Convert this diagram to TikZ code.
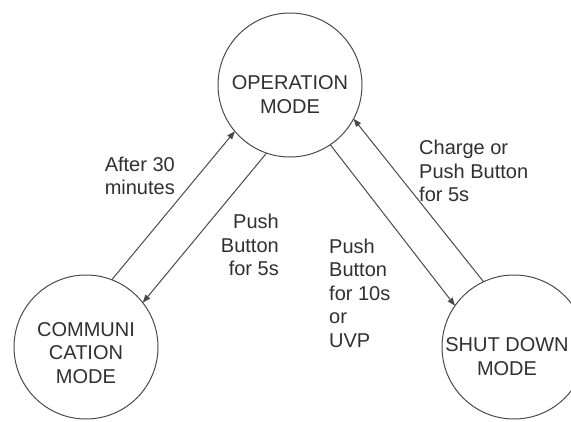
\documentclass[tikz,border=0pt]{standalone}
\usepackage{fontspec}
\setmainfont{Liberation Sans}
\usetikzlibrary{arrows.meta}
\definecolor{ink}{HTML}{303030}
\definecolor{edge}{HTML}{4A4A4A}
% #1 = horizontal shift of the text box (twice the visual shift), #2 = drop, #3 = lines
\newcommand{\stxt}[3]{\raisebox{-#2}[0pt][0pt]{\hspace*{#1}\begin{tabular}{@{}c@{}}#3\end{tabular}}}
\begin{document}
\begin{tikzpicture}[x=1pt,y=-1pt,
  state/.style={circle, draw=edge, line width=1pt, minimum size=144pt, inner sep=0pt, outer sep=0pt, text=ink, font=\fontsize{20}{23.5}\selectfont},
  lbl/.style={inner sep=0pt, text=ink, font=\fontsize{20}{23.5}\selectfont},
  tr/.style={draw=edge, line width=1pt, -{Triangle[length=8pt,width=6pt]}}]
\useasboundingbox[fill=white] (0,0) rectangle (571,421);
\node[state] (op) at (290,85) {\stxt{0pt}{17pt}{OPERATION\\MODE}};
\node[state] (comm) at (86,347) {\stxt{0pt}{13pt}{COMMUNI\\CATION\\MODE}};
\node[state] (shut) at (514,347) {\stxt{-14pt}{17pt}{SHUT DOWN\\MODE}};
\draw[tr] (comm.69.4) -- (op.220.1);
\draw[tr] (op.251.6) -- (comm.38.5);
\draw[tr] (op.304.1) -- (shut.145.5);
\draw[tr] (shut.115.5) -- (op.332.8);
\node[lbl, anchor=east, align=right] (l1) at (175,176) {After 30\\minutes};
\node[lbl, anchor=east, align=right] (l2) at (279,245) {Push\\Button\\for 5s};
\node[lbl, anchor=west, align=left] (l3) at (419,171) {Charge or\\Push Button\\for 5s};
\node[lbl, anchor=west, align=left] (l4) at (329,293) {Push\\Button\\for 10s\\or\\UVP};
\end{tikzpicture}
\end{document}
